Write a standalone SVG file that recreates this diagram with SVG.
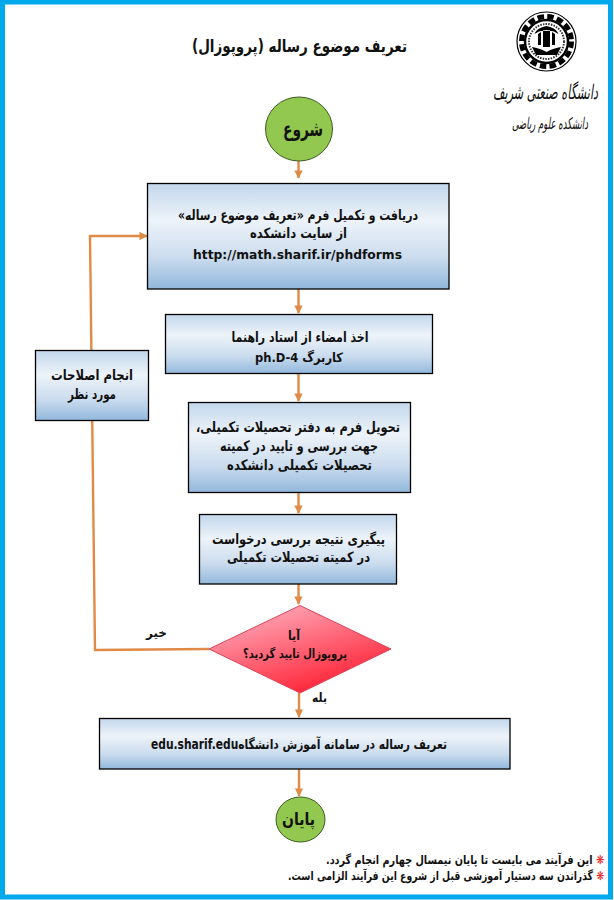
<svg xmlns="http://www.w3.org/2000/svg" width="614" height="900" viewBox="0 0 614 900">
<style>
text{font-family:"DejaVu Sans",sans-serif;font-weight:bold;fill:#111;direction:rtl;text-anchor:middle}
.b{stroke:#000;stroke-width:1.3;fill:url(#bg)}
.c{stroke:#3d5a20;stroke-width:1;fill:#92c84f}
.k{fill:none;stroke:#e08a48;stroke-width:2.4}
.l{font-weight:normal;font-style:italic;text-anchor:start}
.n{text-anchor:start}
</style>
<defs>
<linearGradient id="bg" x1="0" y1="0" x2="0" y2="1"><stop offset="0" stop-color="#c2d7ec"/><stop offset=".35" stop-color="#edf3f9"/><stop offset=".7" stop-color="#cbdcee"/><stop offset="1" stop-color="#92b8dc"/></linearGradient>
<linearGradient id="rg" x1="0.2" y1="0" x2="0.8" y2="1"><stop offset="0" stop-color="#ffb0c0"/><stop offset="1" stop-color="#ff1428"/></linearGradient>
<marker id="a" viewBox="0 0 10 10" refX="9" refY="5" markerWidth="3.500" markerHeight="3.500" orient="auto"><path d="M0 0L10 5L0 10z" fill="#e08a48"/></marker>
</defs>
<rect x="2.500" y="2" width="608" height="895" fill="#fff" stroke="#00a8ec" stroke-width="5"/>
<text x="299.500" y="52" font-size="17" textLength="215" lengthAdjust="spacingAndGlyphs">تعریف موضوع رساله (پروپوزال)</text>
<g id="logo">
<circle cx="546.500" cy="41.500" r="29.500" fill="#fff" stroke="#000" stroke-width="1.200"/>
<circle cx="546.500" cy="41.500" r="25" fill="none" stroke="#000" stroke-width="5" stroke-dasharray="6.500 3.320"/>
<circle cx="546.500" cy="41.500" r="21.500" fill="#fff" stroke="#000" stroke-width="2.500"/>
<circle cx="546.500" cy="41.500" r="17.500" fill="none" stroke="#333" stroke-width="2" stroke-dasharray="1.500 1.200"/>
<path d="M532 47c5 1 9 2 14.500 5c5.500-3 9.500-4 14.500-5l-4 8h-21zM538 45V34l3-2v13zM543 47V30h7v17zM552 45V32l3 2v11zM546.500 26c-5 1-10 3-12 8c4-3 8-4 12-3c4-1 8 0 12 3c-2-5-7-7-12-8z" fill="#000"/>
<text class="l" x="598" y="99" font-size="20" textLength="105" lengthAdjust="spacingAndGlyphs">دانشگاه صنعتی شریف</text>
<text class="l" x="588" y="129" font-size="16" textLength="76" lengthAdjust="spacingAndGlyphs">دانشکده علوم ریاضی</text>
</g>
<g id="connectors">
<path class="k" marker-end="url(#a)" d="M298.500 161V178"/>
<path class="k" marker-end="url(#a)" d="M298.500 289V313"/>
<path class="k" marker-end="url(#a)" d="M298.500 374V401"/>
<path class="k" marker-end="url(#a)" d="M298.500 492V513"/>
<path class="k" marker-end="url(#a)" d="M298.500 584V604"/>
<path class="k" marker-end="url(#a)" d="M299 693V717"/>
<path class="k" marker-end="url(#a)" d="M299 769V796"/>
<path class="k" marker-end="url(#a)" d="M209 649L95 650L90 236H147"/>
</g>
<g id="start"><ellipse class="c" cx="299" cy="129" rx="33.500" ry="32"/><text x="303" y="136" font-size="20" textLength="40" lengthAdjust="spacingAndGlyphs">شروع</text></g>
<g id="box1"><rect class="b" x="147.500" y="183.500" width="301.500" height="105.500"/>
<text x="298" y="220" font-size="14" textLength="240" lengthAdjust="spacingAndGlyphs">دریافت و تکمیل فرم «تعریف موضوع رساله»</text>
<text x="298.500" y="238" font-size="14" textLength="97" lengthAdjust="spacingAndGlyphs">از سایت دانشکده</text>
<text x="297.500" y="259" font-size="12.500" style="direction:ltr" textLength="209" lengthAdjust="spacingAndGlyphs">http://math.sharif.ir/phdforms</text></g>
<g id="box2"><rect class="b" x="165.500" y="314.500" width="267" height="59"/>
<text x="300" y="342" font-size="14" textLength="137" lengthAdjust="spacingAndGlyphs">اخذ امضاء از استاد راهنما</text>
<text x="299" y="362" font-size="13" textLength="88" lengthAdjust="spacingAndGlyphs">کاربرگ ph.D-4</text></g>
<g id="box3"><rect class="b" x="188.500" y="402.500" width="222" height="90"/>
<text x="298" y="432" font-size="14.500" textLength="204" lengthAdjust="spacingAndGlyphs">تحویل فرم به دفتر تحصیلات تکمیلی،</text>
<text x="299" y="451" font-size="14.500" textLength="158" lengthAdjust="spacingAndGlyphs">جهت بررسی و تایید در کمیته</text>
<text x="299.500" y="470" font-size="14.500" textLength="145" lengthAdjust="spacingAndGlyphs">تحصیلات تکمیلی دانشکده</text></g>
<g id="box4"><rect class="b" x="199.500" y="514.500" width="197" height="69.500"/>
<text x="298.500" y="544" font-size="14" textLength="173" lengthAdjust="spacingAndGlyphs">پیگیری نتیجه بررسی درخواست</text>
<text x="298.500" y="562" font-size="14" textLength="143" lengthAdjust="spacingAndGlyphs">در کمیته تحصیلات تکمیلی</text></g>
<g id="fix"><rect class="b" x="35.500" y="350.500" width="113" height="70"/>
<text x="92" y="380" font-size="14" textLength="82" lengthAdjust="spacingAndGlyphs">انجام اصلاحات</text>
<text x="92" y="399" font-size="14" textLength="48" lengthAdjust="spacingAndGlyphs">مورد نظر</text></g>
<g id="decision"><path d="M209 649L300 605.500L391 649L300 693z" fill="url(#rg)" stroke="#d8455a" stroke-width="1"/>
<text x="294" y="640" font-size="12.500" textLength="12" lengthAdjust="spacingAndGlyphs">آیا</text>
<text x="295" y="658" font-size="12.500" textLength="104" lengthAdjust="spacingAndGlyphs">پروپوزال تایید گردید؟</text></g>
<text id="no" x="156.500" y="637" font-size="12" textLength="21" lengthAdjust="spacingAndGlyphs">خیر</text>
<text id="yes" x="319.500" y="702" font-size="12.500" textLength="15" lengthAdjust="spacingAndGlyphs">بله</text>
<g id="box5"><rect class="b" x="99.500" y="718.500" width="410.500" height="50.500"/>
<text x="299" y="749" font-size="13.500" textLength="296" lengthAdjust="spacingAndGlyphs">تعریف رساله در سامانه آموزش دانشگاهedu.sharif.edu</text></g>
<g id="end"><ellipse class="c" cx="300.500" cy="819.500" rx="24.500" ry="22.500"/><text x="298.500" y="825" font-size="17" textLength="33" lengthAdjust="spacingAndGlyphs">پایان</text></g>
<g id="notes">
<text class="n" x="604" y="864" font-size="12" textLength="278" lengthAdjust="spacingAndGlyphs"><tspan style="fill:#e02020">❋</tspan> این فرآیند می بایست تا پایان نیمسال چهارم انجام گردد.</text>
<text class="n" x="604" y="880" font-size="12" textLength="316" lengthAdjust="spacingAndGlyphs"><tspan style="fill:#e02020">❋</tspan> گذراندن سه دستیار آموزشی قبل از شروع این فرآیند الزامی است.</text>
</g>
</svg>
